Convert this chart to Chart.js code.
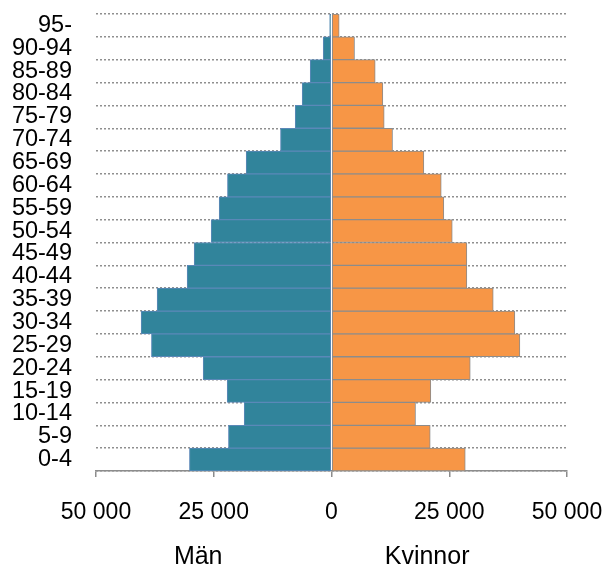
<!DOCTYPE html>
<html>
<head>
<meta charset="utf-8">
<script src="https://cdn.jsdelivr.net/npm/chart.js@4"></script>
<style>
  html, body { margin: 0; padding: 0; background: #fff; }
  #wrap { width: 606px; height: 567px; }
</style>
</head>
<body>
<div id="wrap"><canvas id="pyramid" width="606" height="567"></canvas></div>
<script>
// Age groups, youngest first (drawn bottom-up via reverse axis)
const ageGroups = ['0-4', '5-9', '10-14', '15-19', '20-24', '25-29', '30-34', '35-39',
  '40-44', '45-49', '50-54', '55-59', '60-64', '65-69', '70-74', '75-79',
  '80-84', '85-89', '90-94', '95-'];

const men = [30160, 21880, 18540, 22150, 27250, 38230, 40420, 37020, 30650, 29160,
  25550, 23850, 22090, 18120, 10830, 7710, 6230, 4520, 1760, 400];

const women = [28400, 20960, 17840, 21090, 29460, 40000, 38930, 34340, 28740, 28740,
  25640, 23850, 23300, 19610, 12960, 11190, 10900, 9280, 4890, 1630];

const xTicks = [-50000, -25000, 0, 25000, 50000];
const sideTitles = ['Män', 'Kvinnor'];

const FONT = "'Liberation Sans', Arial, sans-serif";

/**
 * Format a tick value as an absolute number with a space thousand separator.
 * @param {number} v
 * @returns {string}
 */
function fmt(v) {
  return String(Math.abs(v)).replace(/\B(?=(\d{3})+(?!\d))/g, ' ');
}

/**
 * Draws the "Män" / "Kvinnor" captions under the x axis.
 */
const sideTitlePlugin = {
  id: 'sideTitles',
  afterDraw(chart) {
    const { ctx, chartArea } = chart;
    const w = chartArea.right - chartArea.left;
    const pos = [0.217, 0.703];
    ctx.save();
    ctx.font = '25px ' + FONT;
    ctx.fillStyle = '#000';
    ctx.textAlign = 'center';
    ctx.textBaseline = 'alphabetic';
    sideTitles.forEach((t, i) => {
      ctx.fillText(t, chartArea.left + w * pos[i], chart.height - 3);
    });
    ctx.restore();
  },
};

new Chart(document.getElementById('pyramid'), {
  type: 'bar',
  data: {
    labels: ageGroups,
    datasets: [
      {
        label: sideTitles[0],
        data: men.map(v => -v),
        backgroundColor: '#31849b',
        borderColor: '#5b88b8',
        borderWidth: 1,
        borderSkipped: false,
      },
      {
        label: sideTitles[1],
        data: women,
        backgroundColor: '#f79646',
        borderColor: '#8c8c8c',
        borderWidth: 1,
        borderSkipped: false,
      },
    ],
  },
  options: {
    indexAxis: 'y',
    responsive: false,
    animation: false,
    barPercentage: 1,
    categoryPercentage: 1,
    layout: { padding: { left: 12, right: 0, top: 14, bottom: 0 } },
    plugins: {
      legend: { display: false },
      tooltip: { enabled: false },
    },
    scales: {
      x: {
        stacked: true,
        min: -50000,
        max: 50000,
        afterBuildTicks(axis) { axis.ticks = xTicks.map(value => ({ value })); },
        afterFit(scale) {
          scale.height = 96;
          scale.paddingLeft = 0;
          scale.paddingRight = 39;
        },
        ticks: {
          callback: v => fmt(v),
          color: '#000',
          font: { family: FONT, size: 23 },
          padding: 22,
          maxRotation: 0,
        },
        grid: { drawOnChartArea: false, drawTicks: true, tickLength: 6, color: '#8c8c8c', lineWidth: 1.5 },
        border: { display: true, color: '#8c8c8c', width: 1.5 },
      },
      y: {
        stacked: true,
        reverse: true,
        afterFit(scale) {
          scale.width = 84;
          scale.paddingTop = 0;
          scale.paddingBottom = 0;
        },
        ticks: {
          color: '#000',
          font: { family: FONT, size: 23.5 },
          padding: 24,
          autoSkip: false,
        },
        grid: { offset: true, drawTicks: false, color: '#8f8f8f', lineWidth: 1.5 },
        border: { display: false, dash: [2, 2] },
      },
    },
  },
  plugins: [sideTitlePlugin],
});
</script>
</body>
</html>
